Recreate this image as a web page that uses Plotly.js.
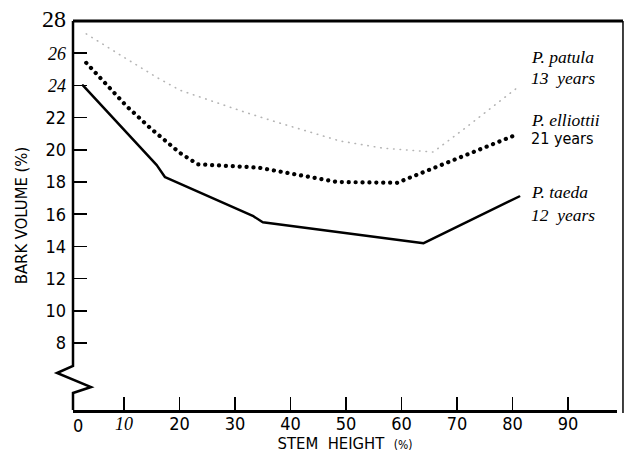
<!DOCTYPE html>
<html>
<head>
<meta charset="utf-8">
<script src="https://cdn.plot.ly/plotly-3.0.1.min.js"></script>
<style>
html,body{margin:0;padding:0;background:#fff;}
#chart{width:628px;height:460px;}
#chart .scatterlayer .js-line{stroke-linecap:round;stroke-linejoin:round;}
</style>
</head>
<body>
<div id="chart"></div>
<script>
// ---- data ----
const taedaX = [2.6, 15.9, 17.4, 33.2, 35.0, 64.0, 81.2];
const taedaY = [24.0, 19.05, 18.3, 15.9, 15.5, 14.2, 17.1];

const elliottiiX = [3.2, 10.5, 14.9, 20.1, 23.3, 34.1, 48.4, 59.2, 80.4];
const elliottiiY = [25.4, 22.7, 21.3, 19.8, 19.1, 18.9, 18.0, 17.95, 20.9];

const patulaX = [3.2, 6.6, 10.2, 16.1, 20.1, 27.8, 32.1, 37.7, 41.1, 48.9, 56.7, 65.7, 70.9, 80.8];
const patulaY = [27.2, 26.45, 25.7, 24.46, 23.7, 22.8, 22.3, 21.7, 21.35, 20.55, 20.1, 19.86, 21.2, 23.84];

const xTickVals = [10, 20, 30, 40, 50, 60, 70, 80, 90];
const xTickText = ['<i style="font-family:Liberation Serif">10</i>', '20', '30', '40', '50', '60', '70', '80', '90'];
const yTickVals = [8, 10, 12, 14, 16, 18, 20, 22, 24, 26, 28];
const yTickText = ['8', '10', '12', '14', '16', '18', '20', '22',
  '<i style="font-family:Liberation Serif">24</i>',
  '<i style="font-family:Liberation Serif">26</i>',
  '<span style="font-family:Liberation Serif;font-size:24px">28</span>'];

const seriesLabels = [
  {text: '<i>P. patula</i>', y: 0.907, serif: true},
  {text: '<i>13  years</i>', y: 0.853, serif: true},
  {text: '<i>P. elliottii</i>', y: 0.746, serif: true},
  {text: '21 years', y: 0.699, serif: false},
  {text: '<i>P. taeda</i>', y: 0.560, serif: true},
  {text: '<i>12  years</i>', y: 0.501, serif: true}
];

const NARROW = '"Liberation Sans Narrow", "Arial Narrow", "DejaVu Sans Condensed", sans-serif';
const SERIF = '"Liberation Serif", "DejaVu Serif", serif';

const traces = [
  {x: patulaX, y: patulaY, type: 'scatter', mode: 'lines', name: 'P. patula',
   line: {color: '#b4b4b4', width: 1.6, dash: '0.5px,6px'}, hoverinfo: 'x+y'},
  {x: elliottiiX, y: elliottiiY, type: 'scatter', mode: 'lines', name: 'P. elliottii',
   line: {color: '#000', width: 4.2, dash: '0.1px,6.8px'}, hoverinfo: 'x+y'},
  {x: taedaX, y: taedaY, type: 'scatter', mode: 'lines', name: 'P. taeda',
   line: {color: '#000', width: 2.5}, hoverinfo: 'x+y'}
];

const layout = {
  width: 628, height: 460,
  margin: {l: 73, r: 11, t: 21, b: 50},
  paper_bgcolor: '#fff', plot_bgcolor: '#fff',
  showlegend: false,
  font: {family: NARROW, color: '#000', size: 18},
  xaxis: {
    range: [0.81, 98.83], showgrid: false, zeroline: false,
    showline: true, linecolor: '#000', linewidth: 3,
    ticks: 'inside', ticklen: 13, tickwidth: 1.5, tickcolor: '#000',
    tickvals: xTickVals, ticktext: xTickText,
    tickfont: {family: NARROW, size: 18, color: '#000'},
    ticklabelstandoff: -5,
    title: {text: 'STEM  HEIGHT  <span style="font-size:12px">(%)</span>',
            font: {family: NARROW, size: 16.5, color: '#000'}, standoff: 0}
  },
  yaxis: {
    range: [3.84, 28], showgrid: false, zeroline: false, showline: false,
    ticks: 'inside', ticklen: 14, tickwidth: 1.5, tickcolor: '#000',
    tickvals: yTickVals, ticktext: yTickText,
    tickfont: {family: NARROW, size: 18, color: '#000'},
    ticklabelstandoff: 6,
    title: {text: 'BARK VOLUME (%)', font: {family: NARROW, size: 16.5, color: '#000'}, standoff: 10}
  },
  shapes: [
    {type: 'path', xref: 'paper', yref: 'paper',
     path: 'M0,1 L0,0.1131 L-0.0294,0.0951 L0.0331,0.0591 L0,0.0437 L0,0',
     line: {color: '#000', width: 2.5}},
    {type: 'line', xref: 'paper', yref: 'paper', x0: 0, x1: 1.011, y0: 1, y1: 1,
     line: {color: '#000', width: 3}},
    {type: 'line', xref: 'paper', yref: 'paper', x0: 1.011, x1: 1.011, y0: -0.008, y1: 1,
     line: {color: '#000', width: 1.5}}
  ],
  annotations: [
    {xref: 'paper', yref: 'paper', x: 0.0092, y: -0.04, xanchor: 'center', yanchor: 'middle',
     text: '0', showarrow: false, font: {family: NARROW, size: 18, color: '#000'}}
  ].concat(seriesLabels.map(l => ({
    xref: 'paper', yref: 'paper', x: 0.839, y: l.y, xanchor: 'left', yanchor: 'middle',
    text: l.text, showarrow: false,
    font: {family: l.serif ? SERIF : NARROW, size: l.serif ? 17.5 : 16, color: '#000'}
  })))
};

Plotly.newPlot('chart', traces, layout, {displayModeBar: false, staticPlot: true});
</script>
</body>
</html>
